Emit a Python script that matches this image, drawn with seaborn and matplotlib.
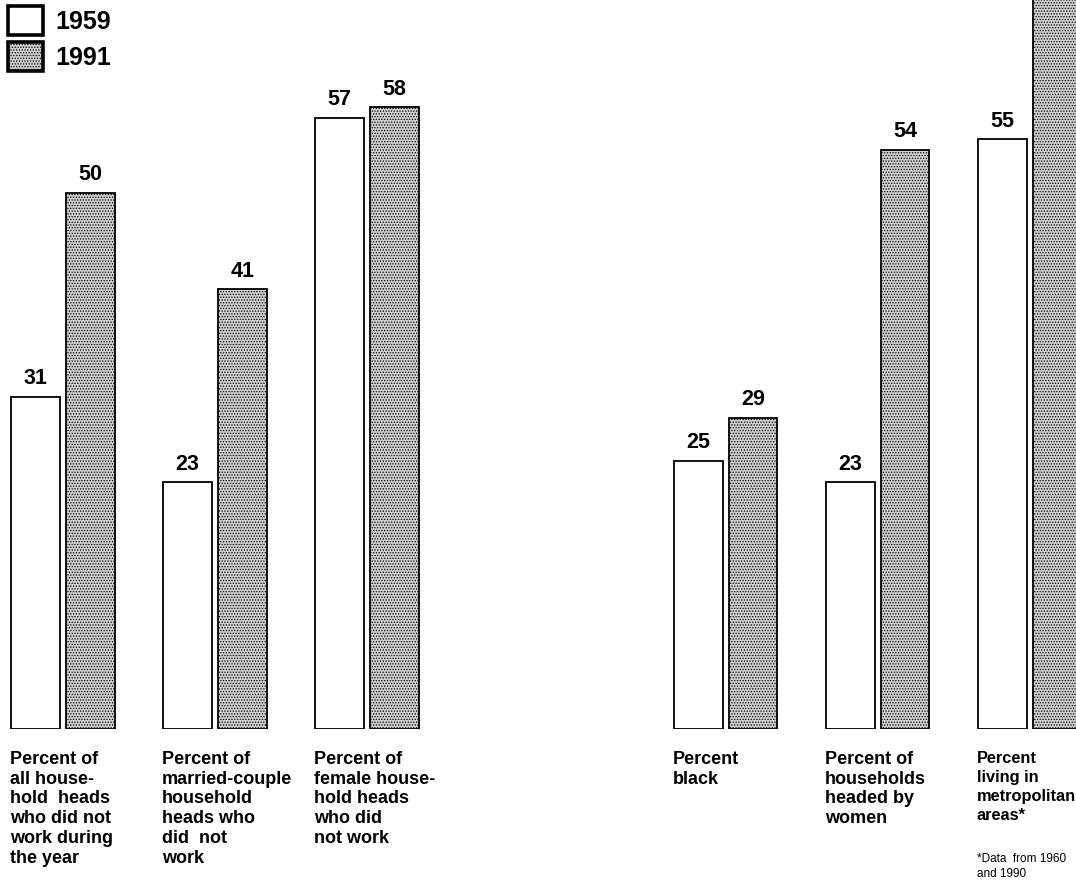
import matplotlib
matplotlib.use("Agg")
import matplotlib.pyplot as plt
import matplotlib.transforms as mtransforms
import seaborn as sns
import pandas as pd

categories = [
    "Percent of\nall house-\nhold  heads\nwho did not\nwork during\nthe year",
    "Percent of\nmarried-couple\nhousehold\nheads who\ndid  not\nwork",
    "Percent of\nfemale house-\nhold heads\nwho did\nnot work",
    "Percent\nblack",
    "Percent of\nhouseholds\nheaded by\nwomen",
    "Percent\nliving in\nmetropolitan\nareas*",
]
positions = [0, 1, 2, 4.36, 5.36, 6.36]
years = ["1959", "1991"]
values_1959 = [31, 23, 57, 25, 23, 55]
values_1991 = [50, 41, 58, 29, 54, 73]
footnote = "*Data  from 1960\nand 1990"

rows = []
for p, a, b in zip(positions, values_1959, values_1991):
    rows.append({"pos": p, "year": years[0], "value": a})
    rows.append({"pos": p, "year": years[1], "value": b})
df = pd.DataFrame(rows)

sns.set_theme(style="white")
plt.rcParams["font.family"] = ["Liberation Sans", "DejaVu Sans"]
plt.rcParams["text.color"] = "black"
plt.rcParams["hatch.color"] = "#6a6a6a"
plt.rcParams["hatch.linewidth"] = 0.6

fig = plt.figure(figsize=(10.76, 8.84), dpi=100)
ax = fig.add_axes([0, 1 - 729 / 884, 1, 729 / 884])

sns.barplot(data=df, x="pos", y="value", hue="year", native_scale=True,
            palette={"1959": "white", "1991": "#cfcfcf"},
            width=0.72, gap=0.11, edgecolor="black", linewidth=1.3,
            ax=ax, legend=True)

for bar in ax.containers[1]:
    bar.set_hatch("......")

for cont in ax.containers:
    ax.bar_label(cont, padding=5.5, fontsize=15.5, fontweight="bold", color="black")

ax.set_xlim(-0.414, 6.664)
ax.set_ylim(0, 68)
ax.set_xlabel("")
ax.set_ylabel("")
ax.set_xticks([])
ax.set_yticks([])
for s in ax.spines.values():
    s.set_visible(False)

trans = mtransforms.blended_transform_factory(ax.transData, fig.transFigure)
for i, (p, lab) in enumerate(zip(positions, categories)):
    fs = 11.8 if i == len(categories) - 1 else 13
    ax.text(p - 0.35, 1 - 751 / 884, lab, transform=trans, ha="left", va="top",
            fontsize=fs, fontweight="bold", linespacing=1.21 * 13 / fs, clip_on=False,
            color="black")

ax.text(6.36 - 0.35, 1 - 853 / 884, footnote, transform=trans, ha="left", va="top",
        fontsize=8.5, linespacing=1.3, clip_on=False, color="black")

leg = ax.legend(loc="upper left", bbox_to_anchor=(8 / 1076, 1 - 6 / 729), frameon=False,
                handlelength=1.4, handleheight=1.4, handletextpad=0.48,
                labelspacing=0.3, borderaxespad=0, borderpad=0,
                prop={"size": 18, "weight": "bold"}, title=None)
for h in leg.legend_handles:
    h.set_linewidth(2.6)
    h.set_edgecolor("black")
leg.legend_handles[1].set_hatch("......")
for t in leg.get_texts():
    t.set_color("black")

fig.savefig("out.png", dpi=100)
